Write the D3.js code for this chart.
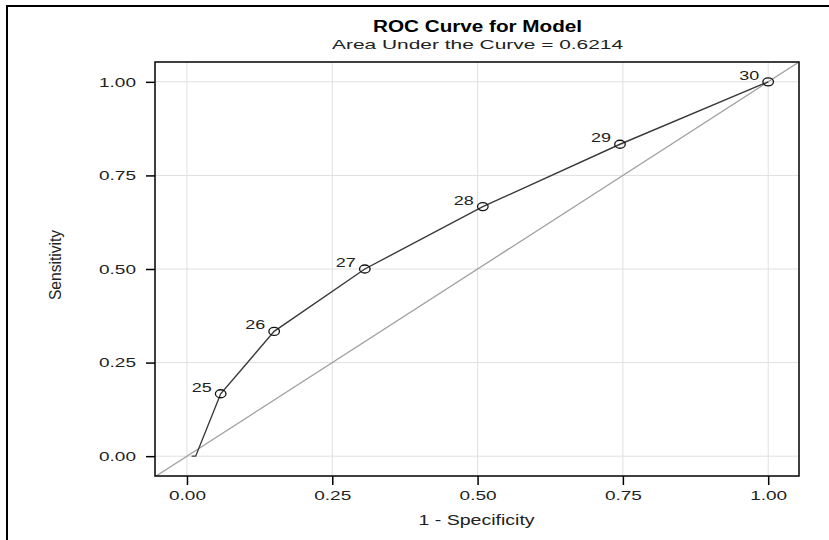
<!DOCTYPE html>
<html>
<head>
<meta charset="utf-8">
<script src="https://cdn.jsdelivr.net/npm/d3@7"></script>
<style>
  body { margin: 0; background: #fff; }
  text { font-family: "Liberation Sans", Arial, sans-serif; }
</style>
</head>
<body>
<script>
// ROC points (1 - specificity, sensitivity) and their cutoff labels
const fpr = [0.008, 0.015, 0.058, 0.150, 0.306, 0.509, 0.745, 1.0];
const tpr = [0.0, 0.0, 0.1667, 0.3333, 0.5, 0.6667, 0.8333, 1.0];
const cutoffs = ['', '', '25', '26', '27', '28', '29', '30'];
const ticks = [0, 0.25, 0.5, 0.75, 1.0];
const auc = 0.6214;

const W = 829, H = 540;
const panel = { left: 155, top: 62, right: 799, bottom: 476 };

const svg = d3.select('body').append('svg')
  .attr('width', W).attr('height', H);

// outer frame (runs off the right and bottom edges)
svg.append('rect')
  .attr('x', 7).attr('y', 6)
  .attr('width', W + 10).attr('height', H + 10)
  .attr('fill', 'none').attr('stroke', '#000').attr('stroke-width', 2);

const x = d3.scaleLinear().domain([-0.055, 1.053]).range([panel.left, panel.right]);
const y = d3.scaleLinear().domain([-0.053, 1.053]).range([panel.bottom, panel.top]);

svg.append('clipPath').attr('id', 'clip')
  .append('rect')
  .attr('x', panel.left).attr('y', panel.top)
  .attr('width', panel.right - panel.left).attr('height', panel.bottom - panel.top);

// grid
const grid = svg.append('g').attr('stroke', '#e0e0e0').attr('stroke-width', 1);
grid.selectAll('.gx').data(ticks).join('line')
  .attr('x1', (d) => x(d)).attr('x2', (d) => x(d))
  .attr('y1', panel.top).attr('y2', panel.bottom);
grid.selectAll('.gy').data(ticks).join('line')
  .attr('y1', (d) => y(d)).attr('y2', (d) => y(d))
  .attr('x1', panel.left).attr('x2', panel.right);

// chance diagonal
svg.append('line')
  .attr('clip-path', 'url(#clip)')
  .attr('x1', x(-0.06)).attr('y1', y(-0.06))
  .attr('x2', x(1.06)).attr('y2', y(1.06))
  .attr('stroke', '#a0a0a0').attr('stroke-width', 1.3);

// ROC curve
const pts = fpr.map((d, i) => ({ fx: d, ty: tpr[i], label: cutoffs[i] }));
const line = d3.line().x((d) => x(d.fx)).y((d) => y(d.ty));
svg.append('path')
  .datum(pts)
  .attr('d', line)
  .attr('fill', 'none')
  .attr('stroke', '#3a3a3a')
  .attr('stroke-width', 1.4);

const marked = pts.filter((d) => d.label !== '');
svg.selectAll('.pt').data(marked).join('ellipse')
  .attr('cx', (d) => x(d.fx)).attr('cy', (d) => y(d.ty))
  .attr('rx', 5.3).attr('ry', 4)
  .attr('fill', 'none').attr('stroke', '#111').attr('stroke-width', 1.3);

svg.selectAll('.lbl').data(marked).join('text')
  .attr('x', (d) => x(d.fx) - 29).attr('y', (d) => y(d.ty) - 2)
  .attr('textLength', 20).attr('lengthAdjust', 'spacingAndGlyphs')
  .style('font-size', '12px')
  .attr('fill', '#222')
  .text((d) => d.label);

// panel border
svg.append('rect')
  .attr('x', panel.left).attr('y', panel.top)
  .attr('width', panel.right - panel.left).attr('height', panel.bottom - panel.top)
  .attr('fill', 'none').attr('stroke', '#000').attr('stroke-width', 1.5);

// axes
const fmt = d3.format('.2f');
const xAxis = svg.append('g')
  .attr('transform', `translate(0,${panel.bottom})`)
  .call(d3.axisBottom(x).tickValues(ticks).tickFormat(fmt).tickSize(9).tickPadding(6));
const yAxis = svg.append('g')
  .attr('transform', `translate(${panel.left},0)`)
  .call(d3.axisLeft(y).tickValues(ticks).tickFormat(fmt).tickSize(9).tickPadding(10));
[xAxis, yAxis].forEach((a) => {
  a.select('.domain').remove();
  a.selectAll('line').attr('stroke', '#000').attr('stroke-width', 1.5);
  a.selectAll('text')
    .style('font-size', '13px')
    .attr('textLength', 37).attr('lengthAdjust', 'spacingAndGlyphs')
    .attr('fill', '#222')
    .style('font-family', '"Liberation Sans", Arial, sans-serif');
});

// titles
svg.append('text')
  .attr('x', x(0.5)).attr('y', 32)
  .attr('text-anchor', 'middle')
  .attr('textLength', 209).attr('lengthAdjust', 'spacingAndGlyphs')
  .style('font-size', '16px').style('font-weight', 'bold')
  .text('ROC Curve for Model');
svg.append('text')
  .attr('x', x(0.5)).attr('y', 49)
  .attr('text-anchor', 'middle')
  .attr('textLength', 291).attr('lengthAdjust', 'spacingAndGlyphs')
  .style('font-size', '13px')
  .attr('fill', '#222')
  .text('Area Under the Curve = ' + auc.toFixed(4));

svg.append('text')
  .attr('x', x(0.5) - 1).attr('y', 525)
  .attr('text-anchor', 'middle')
  .attr('textLength', 116).attr('lengthAdjust', 'spacingAndGlyphs')
  .style('font-size', '14px')
  .attr('fill', '#222')
  .text('1 - Specificity');

svg.append('text')
  .attr('transform', `translate(61,${265}) rotate(-90)`)
  .attr('text-anchor', 'middle')
  .attr('textLength', 70).attr('lengthAdjust', 'spacingAndGlyphs')
  .style('font-family', '"Liberation Sans Narrow", "Liberation Sans", sans-serif')
  .style('font-size', '17px')
  .attr('fill', '#222')
  .text('Sensitivity');
</script>
</body>
</html>
